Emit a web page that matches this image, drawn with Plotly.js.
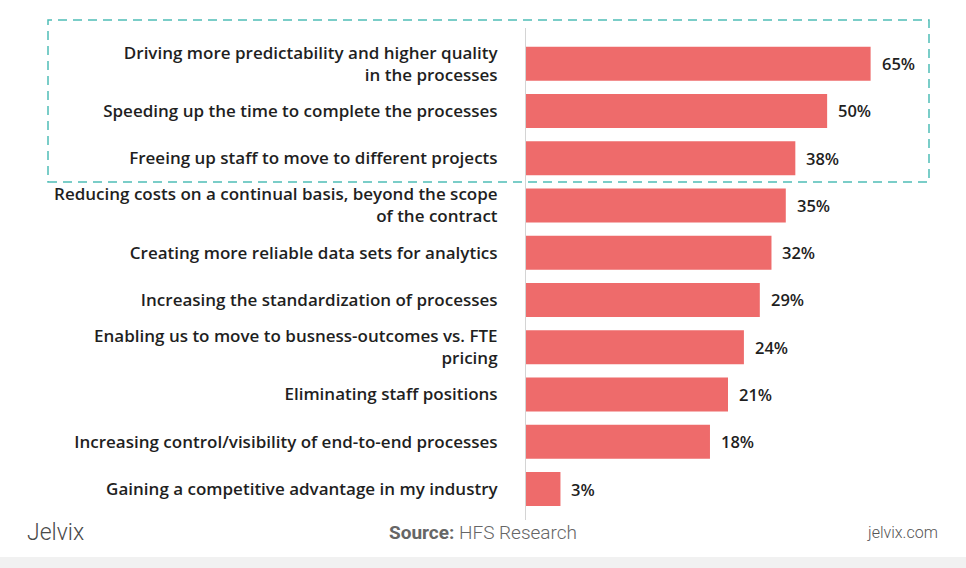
<!DOCTYPE html>
<html>
<head>
<meta charset="utf-8">
<script src="https://cdn.plot.ly/plotly-3.0.1.min.js"></script>
<style>
  html, body { margin: 0; padding: 0; background: #fff; }
  #myDiv { width: 966px; height: 568px; }
</style>
</head>
<body>
<div id="myDiv"></div>
<script>

var labels = [
  "Driving more predictability and higher quality<br>in the processes",
  "Speeding up the time to complete the processes",
  "Freeing up staff to move to different projects",
  "Reducing costs on a continual basis, beyond the scope<br>of the contract",
  "Creating more reliable data sets for analytics",
  "Increasing the standardization of processes",
  "Enabling us to move to busness-outcomes vs. FTE<br>pricing",
  "Eliminating staff positions",
  "Increasing control/visibility of end-to-end processes",
  "Gaining a competitive advantage in my industry"
];

// the printed percentages
var percents = [65, 50, 38, 35, 32, 29, 24, 21, 18, 3];

// bar lengths as drawn in the picture (the original is not to scale)
var barLength = [65, 56.8, 50.8, 49.0, 46.3, 44.1, 41.1, 38.1, 34.7, 6.5];

var rows = labels.map((d, i) => i);

var bars = {
  type: "bar",
  orientation: "h",
  x: barLength,
  y: rows,
  width: 0.72,
  marker: {color: "#ee6b6b"},
  hoverinfo: "skip"
};

var pctNotes = rows.map(i => ({
  x: barLength[i],
  y: i,
  xref: "x",
  yref: "y",
  text: percents[i] + "%",
  showarrow: false,
  xanchor: "left",
  xshift: 9,
  font: {family: "Open Sans", size: 16.5, weight: 600, color: "#1f1f1f"}
}));

var footer = [
  {text: "Jelvix", x: 25, xanchor: "left", font: {family: "Roboto", size: 23, weight: 300, color: "#4a4a4a"}},
  {text: "<b>Source:</b> HFS Research", x: 483, xanchor: "center", font: {family: "Roboto", size: 19, weight: 300, color: "#666"}},
  {text: "jelvix.com", x: 940, xanchor: "right", font: {family: "Roboto", size: 16, weight: 300, color: "#555"}}
].map(a => Object.assign({
  xref: "paper", yref: "paper", showarrow: false, yanchor: "middle"
}, a, {x: (a.x - 526) / 404, y: -(532 - 520) / 492}));

var layout = {
  width: 966,
  height: 568,
  paper_bgcolor: "#fff",
  plot_bgcolor: "#fff",
  showlegend: false,
  margin: {l: 526, r: 36, t: 28, b: 48},
  font: {family: "Open Sans", color: "#1f1f1f"},
  xaxis: {
    range: [0, 76.2],
    showgrid: false,
    zeroline: false,
    showticklabels: false,
    showline: false
  },
  yaxis: {
    range: [9.656, -0.755],
    tickvals: rows,
    ticktext: labels,
    showgrid: false,
    zeroline: false,
    showline: true,
    linecolor: "#d4d4d4",
    linewidth: 1,
    ticks: "",
    ticklabelstandoff: 24,
    tickfont: {family: "Open Sans", size: 17, weight: 600, color: "#1f1f1f"}
  },
  shapes: [
    {
      type: "rect", xref: "paper", yref: "paper",
      x0: (48 - 526) / 404, x1: (929 - 526) / 404,
      y0: 1 - (182 - 28) / 492, y1: 1 + (28 - 20) / 492,
      line: {color: "#4fbdb6", width: 1.5, dash: "9px,6px"}
    },
    {
      type: "rect", xref: "paper", yref: "paper", layer: "below",
      x0: -526 / 404, x1: 1 + 36 / 404,
      y0: -48 / 492, y1: -(557 - 520) / 492,
      fillcolor: "#f1f1f1", line: {width: 0}
    }
  ],
  annotations: pctNotes.concat(footer)
};

Plotly.newPlot("myDiv", [bars], layout, {displayModeBar: false, staticPlot: true});
</script>
</body>
</html>
